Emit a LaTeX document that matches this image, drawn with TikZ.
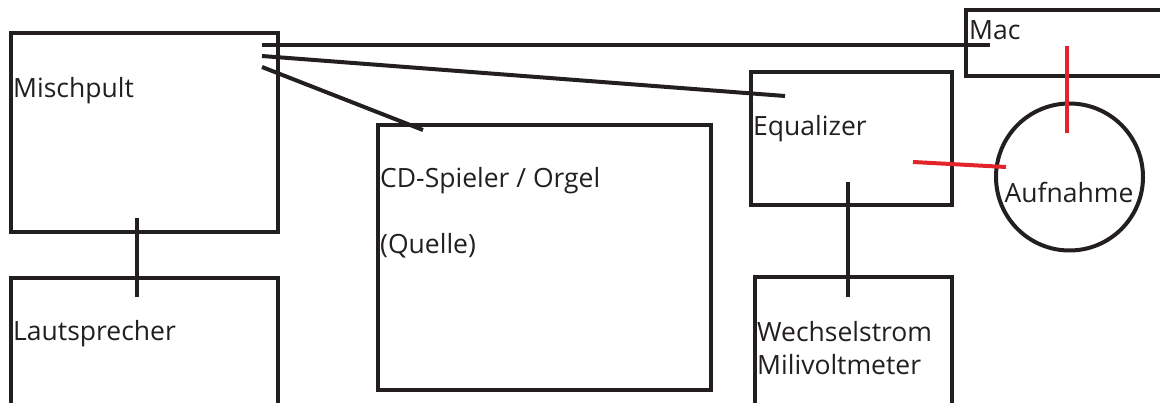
\documentclass[tikz,border=0pt]{standalone}
\usepackage{fontspec}
\setmainfont{Open Sans}
\definecolor{ink}{HTML}{231F20}
\definecolor{wire}{HTML}{E3242B}
\begin{document}
\begin{tikzpicture}[x=1pt,y=-1pt,
  box/.style={draw=ink,line width=4pt,inner sep=0pt,outer sep=0pt,anchor=north west},
  lbl/.style={text=ink,inner sep=0pt,anchor=base west,font=\fontsize{26.5}{26.5}\selectfont},
  conn/.style={draw=ink,line width=4pt},
  redconn/.style={draw=wire,line width=4pt}]
\useasboundingbox (0,0) rectangle (1160,403);
\clip (0,0) rectangle (1160,403);
% boxes
\node[box,minimum width=267pt,minimum height=199pt] (misch) at (11,33) {};
\node[box,minimum width=267pt,minimum height=160pt] (laut) at (11,278) {};
\node[box,minimum width=333pt,minimum height=265pt] (cd) at (378,125) {};
\node[box,minimum width=201pt,minimum height=133pt] (eq) at (751,72) {};
\node[box,minimum width=197pt,minimum height=160pt] (wech) at (755,277) {};
\node[box,minimum width=230pt,minimum height=66pt] (mac) at (966,10) {};
\node[draw=ink,line width=4pt,circle,minimum size=147pt,inner sep=0pt,outer sep=0pt] (auf) at (1069.5,177) {};
% labels
\node[lbl] (tmisch) at (13,98) {Mischpult};
\node[lbl] (tlaut) at (13,341) {Lautsprecher};
\node[lbl] (tcd) at (380,188) {CD-Spieler / Orgel};
\node[lbl] (tquelle) at (380,254) {(Quelle)};
\node[lbl] (teq) at (753,136) {Equalizer};
\node[lbl] (twech) at (757,342) {Wechselstrom};
\node[lbl] (tmili) at (757,375) {Milivoltmeter};
\node[lbl] (tmac) at (969,40) {Mac};
\node[lbl,anchor=base] (tauf) at (1069,203) {Aufnahme};
% connector end points
\coordinate (m1) at (262,45);
\coordinate (m2) at (262,56);
\coordinate (m3) at (262,67);
\coordinate (macin) at (990,45);
\coordinate (eqin) at (785,96);
\coordinate (cdin) at (423,130);
\coordinate (mischdown) at (137,218);
\coordinate (lautup) at (137,297);
\coordinate (eqdown) at (848,182);
\coordinate (wechup) at (848,297);
\coordinate (macdown) at (1067,46);
\coordinate (aufup) at (1067,133);
\coordinate (eqout) at (913,162);
\coordinate (aufin) at (1006,167);
% connectors
\draw[conn] (m1) -- (macin);
\draw[conn] (m2) -- (eqin);
\draw[conn] (m3) -- (cdin);
\draw[conn] (mischdown) -- (lautup);
\draw[conn] (eqdown) -- (wechup);
\draw[redconn] (macdown) -- (aufup);
\draw[redconn] (eqout) -- (aufin);
\end{tikzpicture}
\end{document}
